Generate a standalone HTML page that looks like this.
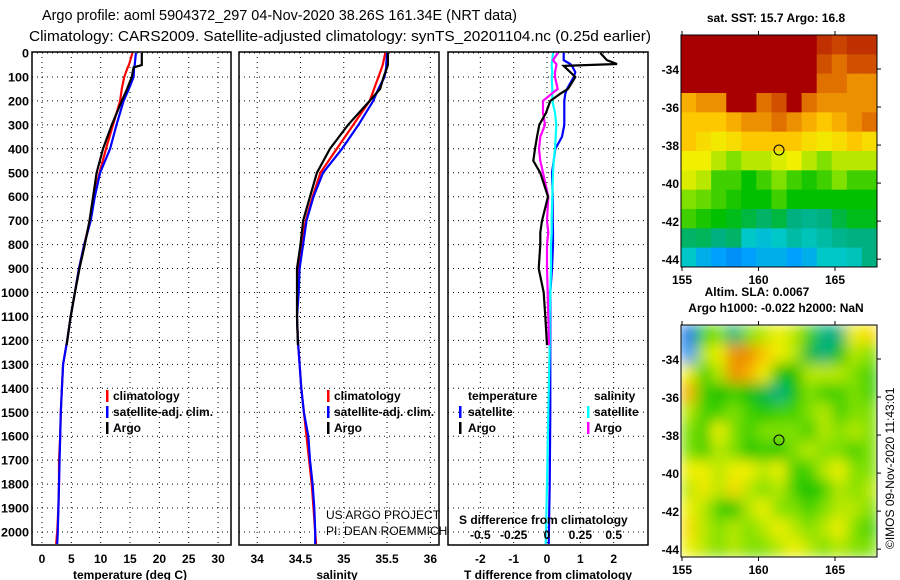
<!DOCTYPE html>
<html><head><meta charset="utf-8"><style>
html,body{margin:0;padding:0;background:#fff;}
svg{display:block;font-family:"Liberation Sans",sans-serif;}
.t{font-weight:bold;font-size:12px;}
</style></head><body>
<svg id="c" width="900" height="580" viewBox="0 0 900 580" xmlns="http://www.w3.org/2000/svg">
<defs>
<filter id="blur" x="0" y="0" width="100%" height="100%"><feGaussianBlur stdDeviation="7" edgeMode="duplicate"/></filter>
<clipPath id="clip2"><rect x="681" y="325" width="196" height="232"/></clipPath>
</defs>
<text x="42" y="20" font-size="15" textLength="475" lengthAdjust="spacingAndGlyphs">Argo profile: aoml 5904372_297 04-Nov-2020 38.26S 161.34E (NRT data)</text>
<text x="29" y="41" font-size="15" textLength="622" lengthAdjust="spacingAndGlyphs">Climatology: CARS2009. Satellite-adjusted climatology: synTS_20201104.nc (0.25d earlier)</text>
</svg>
<script>
// ---- data ----
const depthsUpper = [0,50,60,100,150,200,300,400,500,600,700,800,900,1000,1100,1200,1300,1400,1500,1600,1700,1800,1900,2000,2050];
const tempClim = [15.4,14.8,14.6,14.0,13.6,13.3,12.1,10.9,9.8,8.9,8.2,7.2,6.3,5.6,4.9,4.3,3.6,3.4,3.2,3.1,2.9,2.9,2.8,2.6,2.4];
const tempSat  = [16.0,15.8,15.7,15.6,14.8,13.9,12.7,11.6,9.9,9.0,8.3,7.2,6.3,5.6,4.9,4.3,3.6,3.4,3.2,3.1,3.0,2.9,2.8,2.7,2.6];
const depthsArgo = [0,50,60,100,150,200,300,400,500,600,700,800,900,1000,1100,1220];
const tempArgo = [17.0,17.0,15.6,15.3,14.5,13.6,11.9,10.4,9.3,8.7,8.1,7.3,6.4,5.6,4.9,4.2];
const salClim = [35.48,35.45,35.44,35.40,35.35,35.30,35.11,34.92,34.73,34.64,34.56,34.51,34.48,34.47,34.46,34.47,34.49,34.51,34.54,34.57,34.60,34.63,34.65,34.67,34.68];
const salSat  = [35.50,35.49,35.49,35.47,35.40,35.34,35.17,34.98,34.76,34.65,34.57,34.53,34.49,34.48,34.46,34.47,34.49,34.51,34.54,34.59,34.61,34.64,34.66,34.67,34.67];
const salArgo = [35.51,35.51,35.50,35.46,35.42,35.30,35.05,34.84,34.69,34.61,34.53,34.50,34.46,34.46,34.46,34.47];
const depthsDiff = [0,30,46,54,80,100,150,170,200,250,300,350,400,450,500,600,700,750,800,900,1000,1100,1220,1500,1800,2050];
const tDiffArgo = [1.6,1.8,2.1,0.5,0.7,0.85,0.63,0.4,0.1,-0.03,-0.23,-0.3,-0.36,-0.41,-0.2,0.03,-0.15,-0.2,-0.2,-0.25,-0.1,-0.05,0.0,null,null,null];
const tDiffSat  = [0.5,0.5,0.7,0.75,0.85,0.8,0.6,0.55,0.52,0.52,0.52,0.45,0.25,0.2,0.15,0.17,0.17,0.18,0.18,0.15,0.1,0.1,0.1,0.1,0.08,0.05];
const sDiffSat  = [0.045,0.04,0.035,0.035,0.04,0.035,0.04,0.04,0.04,0.06,0.07,0.065,0.06,0.05,0.045,0.04,0.035,0.035,0.03,0.03,0.025,0.02,0.02,0.01,0.0,-0.01];
const sDiffArgo = [0.08,0.045,0.07,0.07,0.06,0.06,0.08,0.035,-0.03,-0.03,-0.015,-0.05,-0.06,-0.05,-0.03,0.01,0.0,0.01,0.0,0.0,0.005,0.01,0.015,null,null,null];
const depthTicks = [0,100,200,300,400,500,600,700,800,900,1000,1100,1200,1300,1400,1500,1600,1700,1800,1900,2000];
const tempTicks = [0,5,10,15,20,25,30];
const salTicks = [34,34.5,35,35.5,36];
const salTickLabels = ["34","34.5","35","35.5","36"];
const tdTicks = [-2,-1,0,1,2];
const tdTickLabels = ["-2","-1","0","1","2"];
const sdTicks = [-0.5,-0.25,0,0.25,0.5];
const sdTickLabels = ["-0.5","-0.25","0","0.25","0.5"];
const mapXTicks = [155,160,165];
const mapYTicks = [-34,-36,-38,-40,-42,-44];
const sstGrid = [
[1,1,1,1,1,1,1,1,1,0.95,0.92,0.95,0.95],
[1,1,1,1,1,1,1,1,1,0.9,0.85,0.9,0.9],
[1,1,1,1,1,1,1,1,1,0.85,0.85,0.8,0.8],
[0.75,0.8,0.8,1,1,0.85,0.9,1,0.85,0.8,0.8,0.8,0.8],
[0.7,0.7,0.7,0.75,0.8,0.8,0.85,0.8,0.75,0.7,0.75,0.8,0.85],
[0.7,0.65,0.62,0.65,0.7,0.7,0.7,0.7,0.65,0.62,0.65,0.7,0.65],
[0.6,0.6,0.55,0.5,0.55,0.55,0.58,0.6,0.55,0.5,0.55,0.55,0.55],
[0.58,0.55,0.45,0.45,0.4,0.45,0.5,0.45,0.42,0.45,0.5,0.45,0.45],
[0.5,0.48,0.45,0.42,0.4,0.4,0.45,0.4,0.4,0.4,0.4,0.4,0.4],
[0.45,0.42,0.4,0.38,0.35,0.32,0.35,0.3,0.28,0.3,0.35,0.38,0.38],
[0.32,0.33,0.3,0.32,0.2,0.18,0.2,0.25,0.22,0.25,0.28,0.3,0.3],
[0.2,0.15,0.12,0.1,0.12,0.15,0.15,0.12,0.15,0.2,0.2,0.22,0.3]];
const slaGrid = [
[0.05,0.45,0.5,0.3,0.5,0.55,0.6,0.55,0.45,0.3,0.3,0.6,0.65],
[0.1,0.55,0.6,0.8,0.8,0.7,0.6,0.55,0.35,0.3,0.4,0.55,0.5],
[0.6,0.45,0.55,0.8,0.75,0.6,0.4,0.4,0.55,0.55,0.55,0.5,0.45],
[0.75,0.45,0.4,0.45,0.4,0.35,0.3,0.4,0.5,0.45,0.45,0.5,0.45],
[0.55,0.45,0.45,0.5,0.45,0.42,0.45,0.45,0.5,0.55,0.45,0.5,0.5],
[0.5,0.45,0.6,0.5,0.45,0.5,0.5,0.5,0.45,0.55,0.5,0.55,0.5],
[0.5,0.45,0.55,0.5,0.42,0.45,0.42,0.5,0.55,0.5,0.5,0.45,0.5],
[0.6,0.6,0.55,0.6,0.6,0.55,0.6,0.45,0.45,0.55,0.6,0.5,0.5],
[0.55,0.62,0.55,0.65,0.55,0.5,0.55,0.45,0.4,0.45,0.55,0.5,0.55],
[0.6,0.55,0.45,0.42,0.55,0.6,0.5,0.5,0.45,0.5,0.55,0.55,0.5],
[0.65,0.55,0.5,0.55,0.5,0.55,0.6,0.55,0.5,0.55,0.6,0.5,0.45],
[0.6,0.55,0.5,0.55,0.5,0.5,0.55,0.6,0.55,0.5,0.55,0.5,0.5]];
const floatLon = 161.34, floatLat = -38.26;

const NS="http://www.w3.org/2000/svg";
const svg=document.getElementById('c');
function mk(tag,attrs,parent,text){const e=document.createElementNS(NS,tag);for(const k in attrs)e.setAttribute(k,attrs[k]);if(text!==undefined)e.textContent=text;(parent||svg).appendChild(e);return e;}
const yD=d=>53+d*0.2395;
const TOP=52,BOT=545;

function panel(name,x0,x1,vmin,vmax,xt,xtl,showY){
  const g=mk('g',{});
  
  
  const sx=v=>x0+(v-vmin)/(vmax-vmin)*(x1-x0);
  depthTicks.forEach(d=>{
    const l=mk('line',{x1:x0,x2:x1,y1:yD(d),y2:yD(d),stroke:'#000','stroke-width':1,'stroke-dasharray':'1,4'},g);
    
    
    if(showY){
      const s=String(d);
      const t=mk('text',{x:x0-3,y:yD(d)+4.5,'text-anchor':'end',class:'t',textLength:s.length*7,lengthAdjust:'spacingAndGlyphs'},g,s);
      
      
    }
  });
  xt.forEach((v,i)=>{
    const l=mk('line',{x1:sx(v),x2:sx(v),y1:TOP,y2:BOT,stroke:'#000','stroke-width':1,'stroke-dasharray':'1,4'},g);
    
    
    const t=mk('text',{x:sx(v),y:563,'text-anchor':'middle',class:'t'},g,xtl[i]);
    
    
  });
  const r=mk('rect',{x:x0,y:TOP,width:x1-x0,height:BOT-TOP,fill:'none',stroke:'#000','stroke-width':1.5},g);
  
  
  return {g,sx};
}
function series(p,vals,depths,color,name){
  let pts=[];
  vals.forEach((v,i)=>{if(v!==null)pts.push(p.sx(v).toFixed(1)+','+yD(depths[i]).toFixed(1));});
  const l=mk('polyline',{points:pts.join(' '),fill:'none',stroke:color,'stroke-width':2.2,'stroke-linejoin':'miter'},p.g);
  
  
}
function label(txt,x,y,name,opts){
  const t=mk('text',Object.assign({x:x,y:y,class:'t'},opts||{}),svg,txt);
  
  
  return t;
}
function legBar(x,y,color,name){
  const r=mk('rect',{x:x,y:y-10,width:2.5,height:12,fill:color});
  
  
}

// panel 1 temperature
const p1=panel('temperature-panel',32,231,-1.7,32.2,tempTicks,tempTicks.map(String),true);
series(p1,tempClim,depthsUpper,'#ff0000','climatology-temperature-line');
series(p1,tempSat,depthsUpper,'#0000ff','satellite-temperature-line');
series(p1,tempArgo,depthsArgo,'#000000','argo-temperature-line');
label('temperature (deg C)',130,579,'temperature-axis-title',{'text-anchor':'middle'});
legBar(106,400,'#ff0000','legend-climatology-swatch');label('climatology',113,400,'legend-climatology');
legBar(106,416,'#0000ff','legend-satellite-swatch');label('satellite-adj. clim.',113,416,'legend-satellite');
legBar(106,432,'#000','legend-argo-swatch');label('Argo',113,432,'legend-argo');

// panel 2 salinity
const p2=panel('salinity-panel',239,439,33.79,36.1,salTicks,salTickLabels,false);
series(p2,salClim,depthsUpper,'#ff0000','climatology-salinity-line');
series(p2,salSat,depthsUpper,'#0000ff','satellite-salinity-line');
series(p2,salArgo,depthsArgo,'#000000','argo-salinity-line');
label('salinity',337,579,'salinity-axis-title',{'text-anchor':'middle'});
legBar(327,400,'#ff0000','legend-climatology-swatch-2');label('climatology',334,400,'legend-climatology-2');
legBar(327,416,'#0000ff','legend-satellite-swatch-2');label('satellite-adj. clim.',334,416,'legend-satellite-2');
legBar(327,432,'#000','legend-argo-swatch-2');label('Argo',334,432,'legend-argo-2');
label('US ARGO PROJECT',326,519,'credit-project',{class:'',"font-size":12});
label('PI: DEAN ROEMMICH',326,535,'credit-pi',{class:'',"font-size":12});

// panel 3 differences
const p3=panel('difference-panel',448,648,-2.97,3.03,tdTicks,tdTickLabels,false);
const p3s={g:p3.g,sx:v=>p3.sx(v*4)};
series(p3,tDiffSat,depthsDiff,'#0000ff','satellite-temperature-difference-line');
series(p3s,sDiffSat,depthsDiff,'#00ffff','satellite-salinity-difference-line');
series(p3s,sDiffArgo,depthsDiff,'#ff00ff','argo-salinity-difference-line');
series(p3,tDiffArgo,depthsDiff,'#000000','argo-temperature-difference-line');
sdTicks.forEach((v,i)=>{label(sdTickLabels[i],p3s.sx(v),539,'s-difference-tick-label',{'text-anchor':'middle'});});
label('S difference from climatology',459,524,'s-difference-axis-title');
label('T difference from climatology',548,579,'t-difference-axis-title',{'text-anchor':'middle'});
label('temperature',468,400,'legend-temperature-heading');
legBar(459,416,'#0000ff','legend-t-satellite-swatch');label('satellite',468,416,'legend-t-satellite');
legBar(459,432,'#000','legend-t-argo-swatch');label('Argo',468,432,'legend-t-argo');
label('salinity',594,400,'legend-salinity-heading');
legBar(587,416,'#00ffff','legend-s-satellite-swatch');label('satellite',594,416,'legend-s-satellite');
legBar(587,432,'#ff00ff','legend-s-argo-swatch');label('Argo',594,432,'legend-s-argo');

// colormap
const stops=[[0,[0,64,208]],[0.12,[0,160,255]],[0.2,[0,200,200]],[0.3,[0,176,128]],[0.4,[0,192,0]],[0.5,[128,224,0]],[0.6,[240,240,0]],[0.72,[255,192,0]],[0.85,[224,112,0]],[0.95,[192,48,0]],[1,[168,0,0]]];
function cmap(v){for(let i=1;i<stops.length;i++){if(v<=stops[i][0]){const a=stops[i-1],b=stops[i];const f=(v-a[0])/(b[0]-a[0]);return 'rgb('+a[1].map((c,k)=>Math.round(c+(b[1][k]-c)*f)).join(',')+')';}}return 'rgb(168,0,0)';}

function map(name,grid,top,y34,title,titleY,smooth){
  const x0=681,x1=877,bot=top+232;
  const lonX=l=>682+(l-155)*15.3;
  const latY=la=>y34+(-34-la)*((bot-5-y34)/10.15);
  const g=mk('g',{});
  
  
  const holder=mk('g',smooth?{'clip-path':'url(#clip2)'}:{},g);
  const cells=mk('g',smooth?{filter:'url(#blur)'}:{},holder);
  const rows=grid.length,cols=grid[0].length;
  const cw=(x1-x0)/cols,ch=(bot-top)/rows;
  grid.forEach((row,r)=>row.forEach((v,c)=>{
    const cell=mk('rect',{x:x0+c*cw,y:top+r*ch,width:cw+0.5,height:ch+0.5,fill:cmap(v)},cells);
    
    
  }));
  const fr=mk('rect',{x:x0,y:top,width:x1-x0,height:bot-top,fill:'none',stroke:'#000','stroke-width':1},g);
  
  
  mapXTicks.forEach(l=>{
    mk('line',{x1:lonX(l),x2:lonX(l),y1:top-4,y2:top,stroke:'#000'},g);
    mk('line',{x1:lonX(l),x2:lonX(l),y1:bot,y2:bot+4,stroke:'#000'},g);
    const t=mk('text',{x:lonX(l),y:bot+17,'text-anchor':'middle',class:'t'},g,String(l));
    
    
  });
  mapYTicks.forEach(la=>{
    mk('line',{x1:x1,x2:x1+4,y1:latY(la),y2:latY(la),stroke:'#000'},g);
    const t=mk('text',{x:679,y:latY(la)+5,'text-anchor':'end',class:'t'},g,String(la));
    
    
  });
  const cc=mk('circle',{cx:lonX(floatLon),cy:latY(floatLat),r:5,fill:'none',stroke:'#000','stroke-width':1},g);
  
  
  label(title,776,titleY,name+'-title',{'text-anchor':'middle'});
}
map('sst-map',sstGrid,35,69,'sat. SST: 15.7 Argo: 16.8',22,false);
map('sla-map',slaGrid,325,359,'Argo h1000: -0.022 h2000: NaN',312,true);
label('Altim. SLA: 0.0067',757,296,'sla-value');
svg.lastChild.setAttribute('text-anchor','middle');
const cp=mk('text',{x:0,y:0,'font-size':12,transform:'translate(894,549) rotate(-90)'},svg,'©IMOS 09-Nov-2020 11:43:01');


</script>
</body></html>
